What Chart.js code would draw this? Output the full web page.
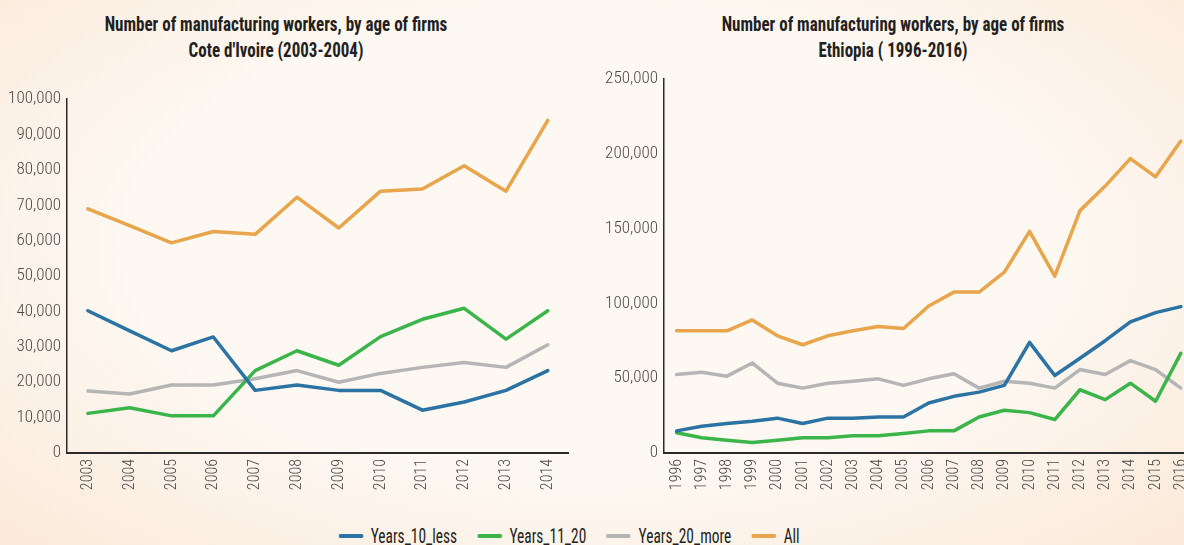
<!DOCTYPE html>
<html>
<head>
<meta charset="utf-8">
<script src="https://cdn.jsdelivr.net/npm/chart.js@4"></script>
<style>
  html, body { margin: 0; padding: 0; }
  body {
    width: 1184px; height: 545px; overflow: hidden; position: relative;
    background: radial-gradient(ellipse at 50% 45%, #fdf8f2 55%, #fbe9d9 100%);
    font-family: "Roboto Condensed", sans-serif;
  }
  .title {
    position: absolute; width: 500px; text-align: center;
    font-weight: bold; font-size: 21px; line-height: 26px; color: #231f20;
    transform: scaleX(0.81);
  }
  .box { position: absolute; }
  #legend {
    position: absolute; top: 526px; left: 0; width: 1138px; height: 20px;
    display: flex; justify-content: center; align-items: center;
    font-size: 20px; line-height: 20px; color: #231f20;
    transform: scaleX(0.77);
  }
  .item { display: flex; align-items: center; margin: 0 13px; }
  .swatch { width: 32px; height: 4px; margin-right: 10px; border-radius: 2px; }
</style>
</head>
<body>
<div class="title" style="left:26px; top:11px;">Number of manufacturing workers, by age of firms<br>Cote d'Ivoire (2003-2004)</div>
<div class="title" style="left:643px; top:11px;">Number of manufacturing workers, by age of firms<br>Ethiopia ( 1996-2016)</div>

<div class="box" style="left:0; top:83px; width:573px; height:415px;"><canvas id="civ"></canvas></div>
<div class="box" style="left:600px; top:63px; width:606px; height:435px;"><canvas id="eth"></canvas></div>
<div id="legend"></div>

<script>
const seriesNames = ["Years_10_less", "Years_11_20", "Years_20_more", "All"];
const seriesColors = ["#2a73a3", "#3bb54a", "#b5b5b5", "#e8a54b"];

// Cote d'Ivoire
const civYears = ["2003", "2004", "2005", "2006", "2007", "2008", "2009", "2010", "2011", "2012", "2013", "2014"];
const civYears10Less = [40200, 34500, 28900, 32800, 17700, 19200, 17700, 17700, 12100, 14400, 17700, 23300];
const civYears11to20 = [11200, 12800, 10500, 10500, 23300, 28900, 24800, 32900, 37800, 40900, 32200, 40200];
const civYears20More = [17500, 16700, 19200, 19200, 21000, 23300, 20000, 22500, 24200, 25600, 24200, 30600];
const civAll = [69000, 64300, 59400, 62600, 61800, 72300, 63600, 74000, 74600, 81200, 74000, 94000];

// Ethiopia
const ethYears = ["1996", "1997", "1998", "1999", "2000", "2001", "2002", "2003", "2004", "2005", "2006",
  "2007", "2008", "2009", "2010", "2011", "2012", "2013", "2014", "2015", "2016"];
const ethYears10Less = [14800, 17900, 19700, 21300, 23300, 19700, 23300, 23300, 24100, 24100, 33400,
  37900, 40700, 45200, 74000, 51800, 63400, 75100, 87700, 93900, 97900];
const ethYears11to20 = [13500, 10200, 8600, 7100, 8600, 10200, 10200, 11500, 11500, 13100, 14800,
  14800, 24100, 28600, 27000, 22400, 42300, 35700, 46700, 34600, 66600];
const ethYears20More = [52500, 54000, 51400, 60200, 46700, 43400, 46700, 48000, 49600, 45200, 49600,
  53000, 43400, 48000, 46700, 43400, 55800, 52500, 61800, 55800, 43400];
const ethAll = [81700, 81700, 81700, 89000, 78400, 72400, 78400, 81700, 84600, 83300, 98300,
  107600, 107600, 120900, 148200, 118300, 162100, 178500, 196900, 184700, 208600];

const tickFont = { family: "'Roboto Condensed', sans-serif", size: 17, weight: 300 };

function lineChart(id, labels, values, yMax, yStep, yWidth, padTop) {
  return new Chart(document.getElementById(id), {
    type: "line",
    data: {
      labels: labels,
      datasets: values.map((data, i) => ({
        label: seriesNames[i],
        data: data,
        borderColor: seriesColors[i],
        backgroundColor: seriesColors[i],
        borderWidth: 3.5,
        borderJoinStyle: "round",
        borderCapStyle: "round",
        pointRadius: 0,
        fill: false,
        tension: 0,
      })),
    },
    options: {
      responsive: true,
      maintainAspectRatio: false,
      animation: false,
      layout: { padding: { top: padTop, right: 0, bottom: 0, left: 0 } },
      plugins: { legend: { display: false }, tooltip: { enabled: false } },
      scales: {
        x: {
          offset: true,
          grid: { display: false, drawTicks: false },
          border: { color: "#2b2b2b", width: 2 },
          ticks: {
            color: "#4a4a4a",
            font: { ...tickFont, size: 16 },
            autoSkip: false,
            minRotation: 90,
            maxRotation: 90,
            padding: 6,
          },
          afterFit: (scale) => { scale.height = 45; },
        },
        y: {
          min: 0,
          max: yMax,
          grid: { display: false, drawTicks: false },
          border: { color: "#2b2b2b", width: 1.5 },
          ticks: {
            stepSize: yStep,
            color: "#4a4a4a",
            font: tickFont,
            padding: 6,
            callback: (value) => value.toLocaleString("en-US"),
          },
          afterFit: (scale) => { scale.width = yWidth; },
        },
      },
    },
  });
}

lineChart("civ", civYears, [civYears10Less, civYears11to20, civYears20More, civAll], 100000, 10000, 67, 6);
lineChart("eth", ethYears, [ethYears10Less, ethYears11to20, ethYears20More, ethAll], 250000, 50000, 64, 7);

// shared legend under both panels
const legend = document.getElementById("legend");
seriesNames.forEach((name, i) => {
  const item = document.createElement("div");
  item.className = "item";
  const swatch = document.createElement("span");
  swatch.className = "swatch";
  swatch.style.background = seriesColors[i];
  const text = document.createElement("span");
  text.textContent = name;
  item.appendChild(swatch);
  item.appendChild(text);
  legend.appendChild(item);
});
</script>
</body>
</html>
